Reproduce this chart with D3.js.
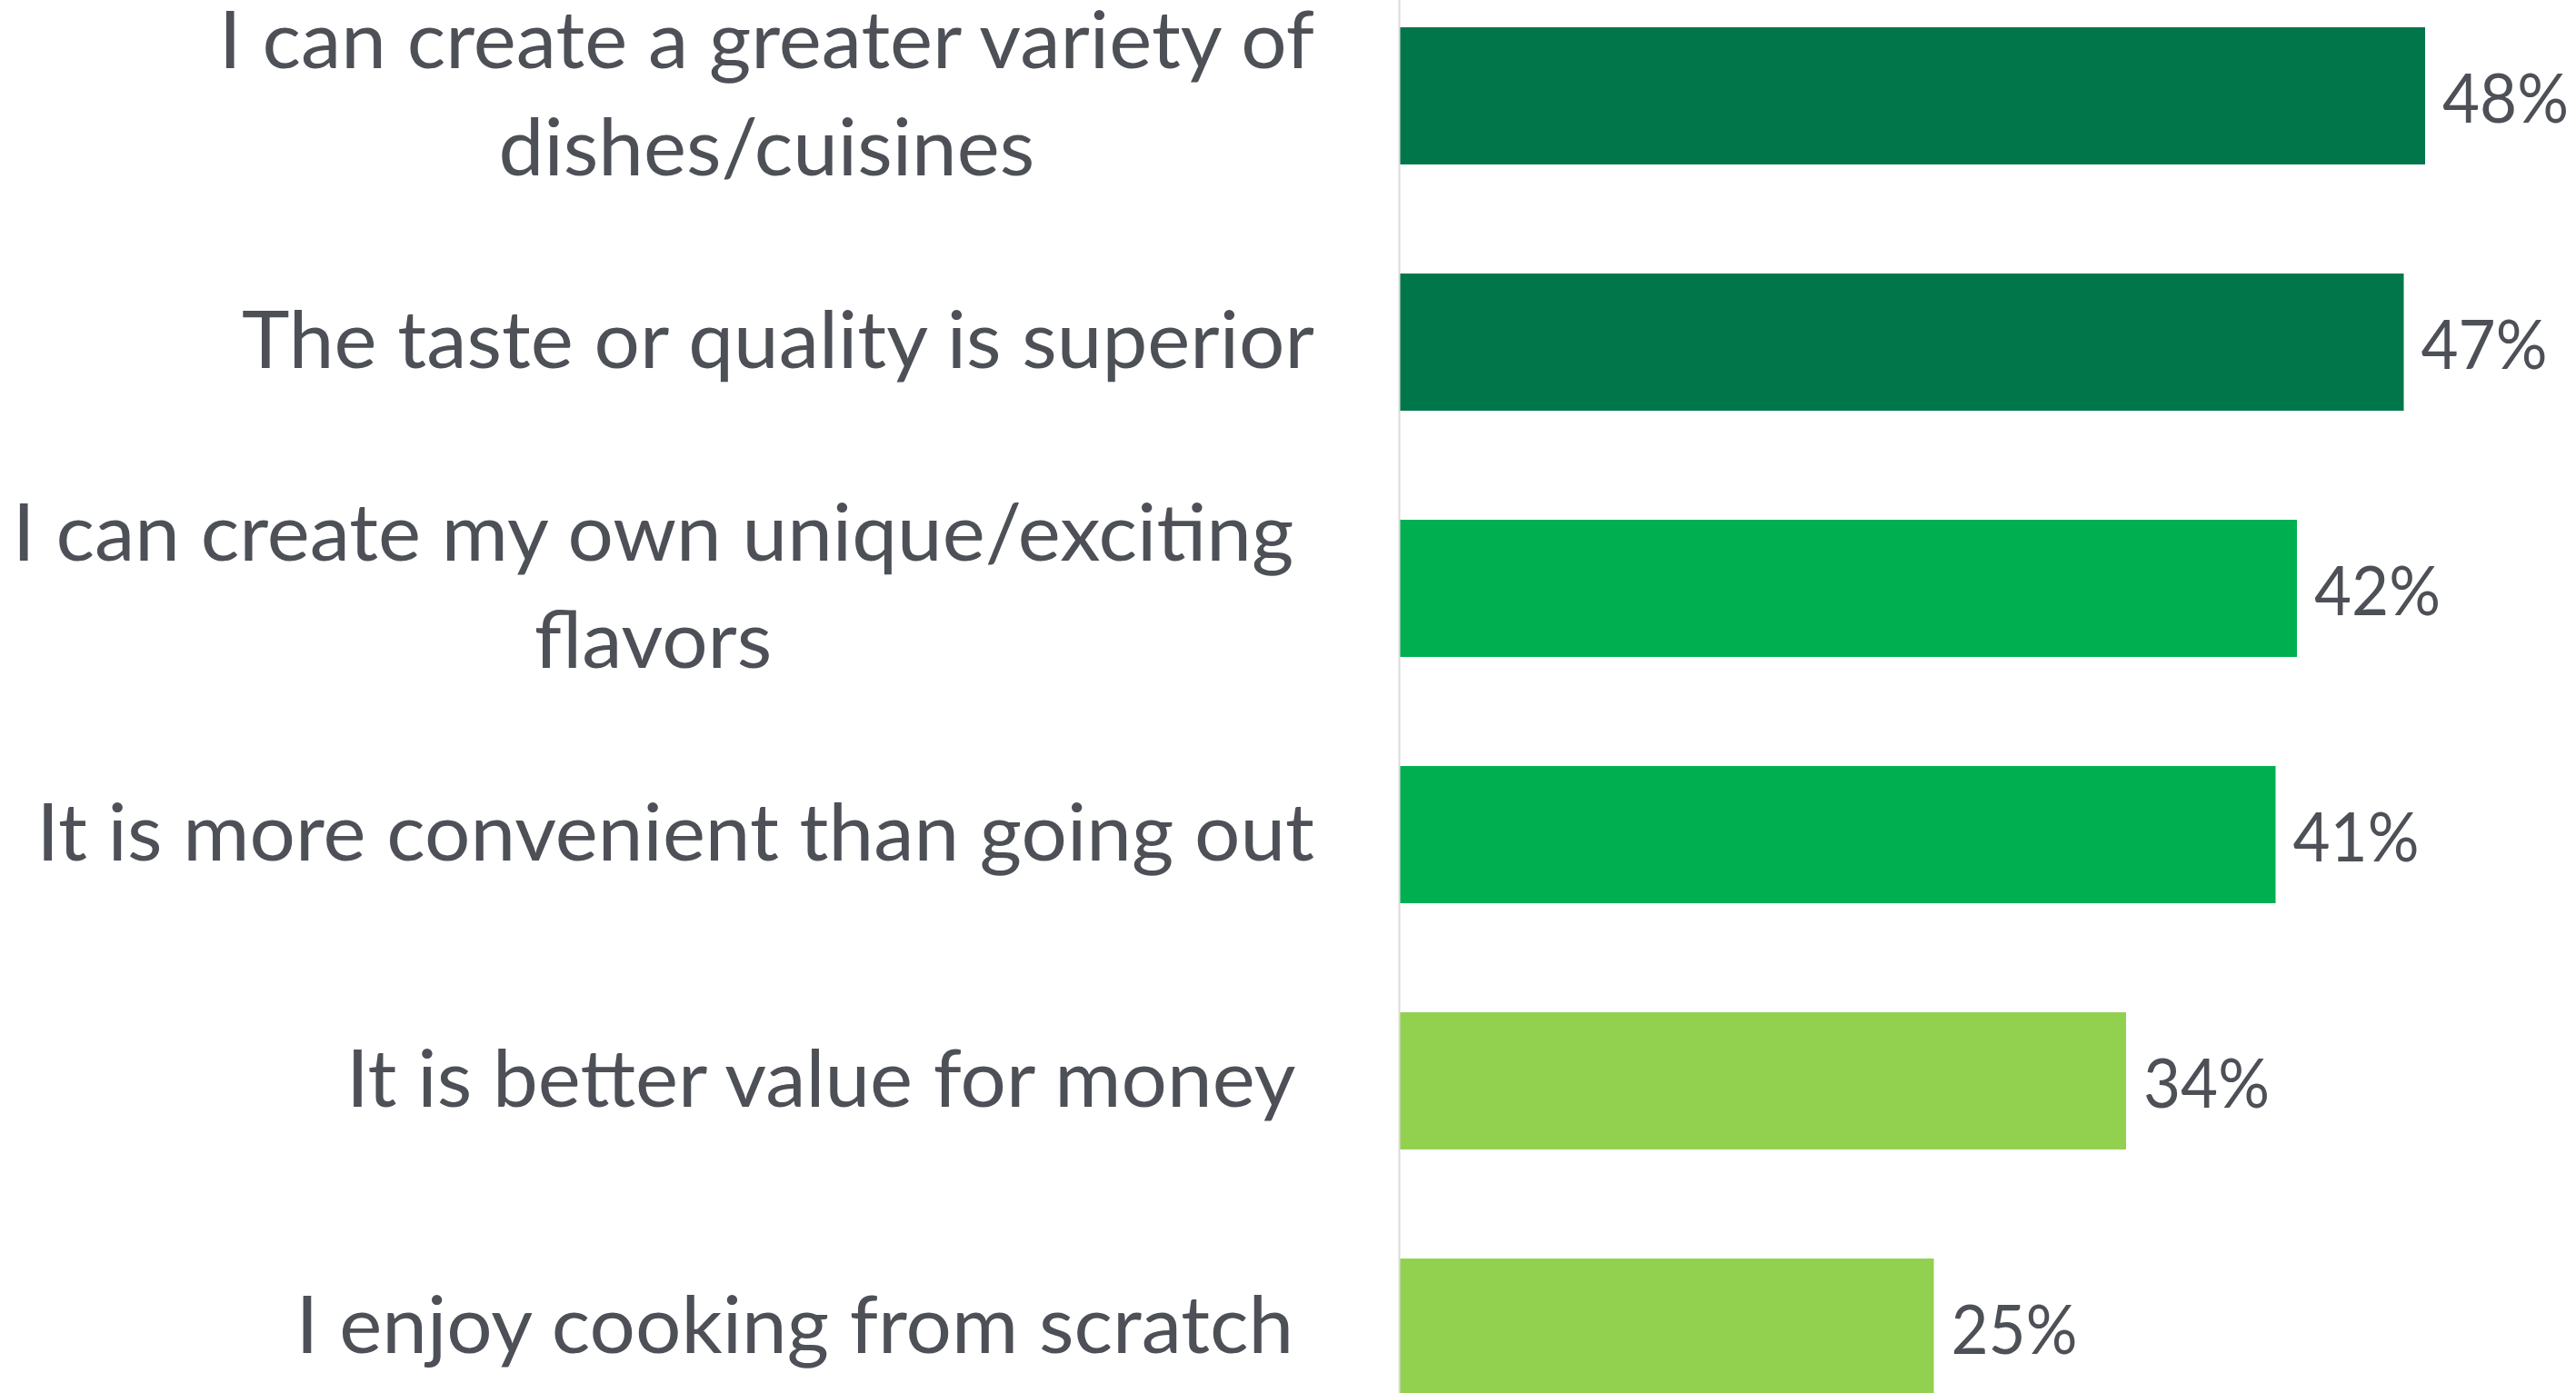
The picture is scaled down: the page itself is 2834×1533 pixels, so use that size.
<!DOCTYPE html>
<html>
<head>
<meta charset="utf-8">
<script src="https://cdn.jsdelivr.net/npm/d3@7/dist/d3.min.js"></script>
<style>
  html, body { margin: 0; padding: 0; background: #ffffff; }
  svg { display: block; }
</style>
</head>
<body>
<svg id="chart" width="2834" height="1533"></svg>
<script>
// Reasons for cooking at home – share of respondents
const categories = [
  "I can create a greater variety of\ndishes/cuisines",
  "The taste or quality is superior",
  "I can create my own unique/exciting \nflavors ",
  "It is more convenient than going out",
  "It is better value for money ",
  "I enjoy cooking from scratch "
];
const values = [48, 47, 42, 41, 34, 25];
const tiers = ["top", "top", "middle", "middle", "lower", "lower"];
const tierNames = ["top", "middle", "lower"];
const tierColors = ["#00764A", "#00AF50", "#92D050"];

const W = 2834, H = 1533;
const textColor = "#4D5056";
const fontFamily = "Lato, 'Open Sans', sans-serif";
const catFontSize = 88;
const valFontSize = 76;
const lineGap = 118;

const svg = d3.select("#chart");
svg.append("rect").attr("width", W).attr("height", H).attr("fill", "#ffffff");

const rows = categories.map((c, i) => ({ label: c, value: values[i], tier: tiers[i] }));

const y = d3.scaleBand()
  .domain(categories)
  .range([-30, 1596])
  .paddingInner(0.443)
  .paddingOuter(0.2215);

const x = d3.scaleLinear().domain([0, 50]).range([1540, 2715]);

const color = d3.scaleOrdinal().domain(tierNames).range(tierColors);

// Horizontal condensing so the sans-serif face keeps the narrow label proportions
function measure(str, size) {
  const t = svg.append("text")
    .style("white-space", "pre")
    .attr("font-family", fontFamily)
    .attr("font-size", size)
    .text(str);
  const w = t.node().getComputedTextLength();
  t.remove();
  return w;
}
const catSqueeze = 1180 / measure(categories[1], catFontSize);
const valSqueeze = 139 / measure("48%", valFontSize);

// Bars
svg.append("g")
  .selectAll("rect")
  .data(rows)
  .join("rect")
  .attr("x", x(0))
  .attr("y", d => y(d.label))
  .attr("width", d => x(d.value) - x(0))
  .attr("height", y.bandwidth())
  .attr("fill", d => color(d.tier));

// Category axis line
const axis = svg.append("g")
  .attr("transform", `translate(${x(0) - 1},0)`)
  .call(d3.axisLeft(y).tickSize(0).tickSizeOuter(0).tickFormat(""));
axis.select(".domain").attr("stroke", "#DCDCDC").attr("stroke-width", 2);
axis.selectAll(".tick").remove();

// Category labels: right-aligned block, lines centred inside it
const labelRight = 1446;
const labelG = svg.append("g");
rows.forEach(d => {
  const lines = d.label.split("\n");
  const widths = lines.map(l => measure(l, catFontSize) * catSqueeze);
  const blockW = d3.max(widths);
  const cx = labelRight - blockW / 2;
  const center = y(d.label) + y.bandwidth() / 2;
  const firstBase = center + 28 - (lines.length - 1) * lineGap / 2;
  lines.forEach((l, j) => {
    labelG.append("text")
      .style("white-space", "pre")
      .attr("transform", `translate(${cx},${firstBase + j * lineGap}) scale(${catSqueeze},1)`)
      .attr("text-anchor", "middle")
      .attr("font-family", fontFamily)
      .attr("font-size", catFontSize)
      .attr("fill", textColor)
      .text(l);
  });
});

// Value labels
svg.append("g")
  .selectAll("text")
  .data(rows)
  .join("text")
  .attr("transform", d => `translate(${x(d.value) + 19},${y(d.label) + y.bandwidth() / 2 + 29}) scale(${valSqueeze},1)`)
  .attr("font-family", fontFamily)
  .attr("font-size", valFontSize)
  .attr("fill", textColor)
  .text(d => d.value + "%");
</script>
</body>
</html>
